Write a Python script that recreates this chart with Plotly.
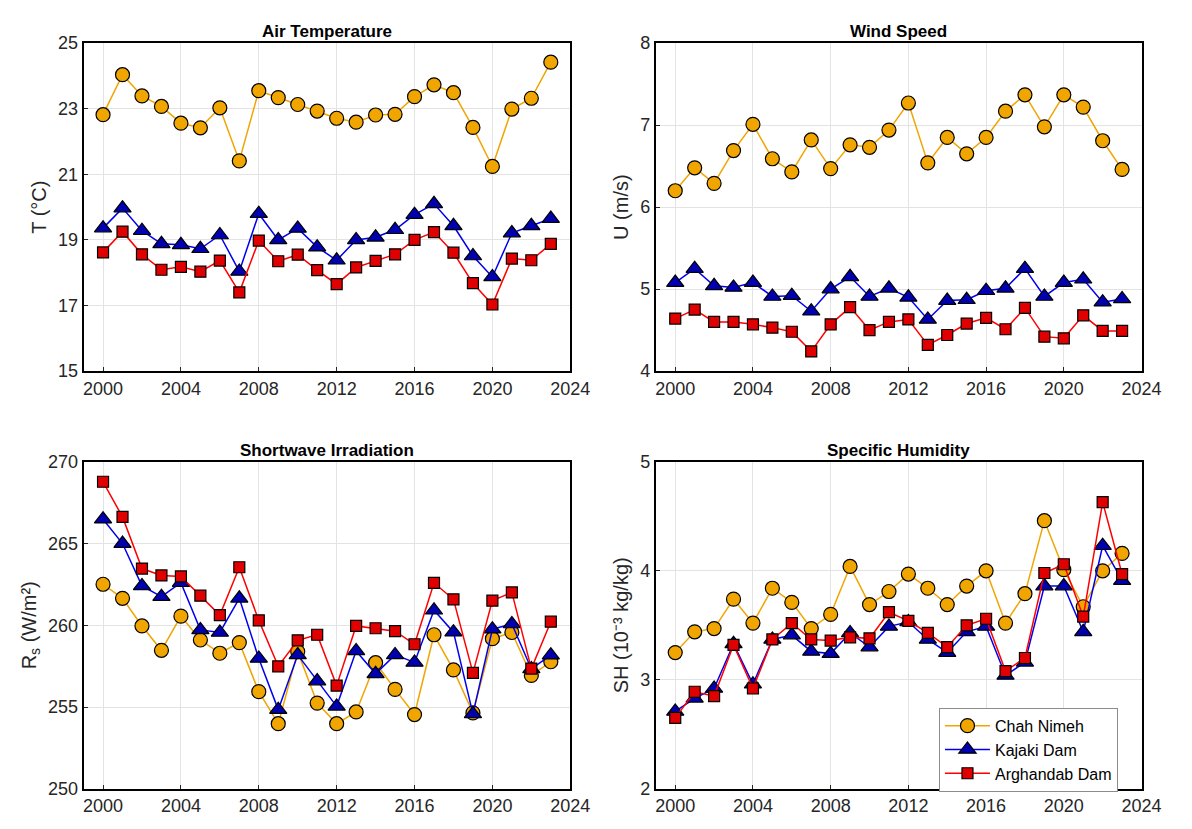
import plotly.graph_objects as go

years = list(range(2000, 2024))
series_names = ["Chah Nimeh", "Kajaki Dam", "Arghandab Dam"]

temp_chah = [22.82, 24.04, 23.39, 23.07, 22.56, 22.42, 23.03, 21.41, 23.55, 23.34, 23.13, 22.93,
             22.71, 22.59, 22.81, 22.83, 23.37, 23.73, 23.49, 22.43, 21.24, 22.99, 23.32, 24.42]
temp_kaj = [19.36, 19.97, 19.28, 18.88, 18.85, 18.73, 19.15, 18.04, 19.80, 19.00, 19.35, 18.78,
            18.38, 19.00, 19.08, 19.31, 19.77, 20.10, 19.43, 18.51, 17.87, 19.21, 19.43, 19.65]
temp_arg = [18.62, 19.25, 18.56, 18.09, 18.18, 18.03, 18.37, 17.40, 18.98, 18.35, 18.55, 18.08,
            17.65, 18.16, 18.36, 18.56, 19.00, 19.24, 18.61, 17.68, 17.03, 18.43, 18.38, 18.88]

wind_chah = [6.20, 6.48, 6.29, 6.69, 7.01, 6.59, 6.43, 6.82, 6.47, 6.76, 6.73, 6.94,
             7.27, 6.54, 6.85, 6.65, 6.85, 7.17, 7.37, 6.98, 7.37, 7.22, 6.81, 6.46]
wind_kaj = [5.08, 5.25, 5.04, 5.02, 5.08, 4.91, 4.92, 4.73, 5.00, 5.15, 4.91, 5.01,
            4.90, 4.63, 4.86, 4.87, 4.98, 5.01, 5.25, 4.91, 5.08, 5.12, 4.84, 4.88]
wind_arg = [4.64, 4.75, 4.60, 4.60, 4.57, 4.53, 4.48, 4.24, 4.57, 4.78, 4.50, 4.60,
            4.63, 4.32, 4.44, 4.58, 4.65, 4.51, 4.77, 4.42, 4.40, 4.68, 4.49, 4.49]

sw_chah = [262.51, 261.65, 259.96, 258.47, 260.56, 259.10, 258.29, 258.94, 255.94, 253.98, 258.39, 255.24,
           253.98, 254.70, 257.71, 256.08, 254.54, 259.42, 257.27, 254.64, 259.18, 259.56, 256.93, 257.77]
sw_kaj = [266.49, 265.00, 262.41, 261.75, 262.61, 259.72, 259.56, 261.65, 257.97, 254.84, 258.19, 256.59,
          255.04, 258.43, 257.03, 258.19, 257.73, 260.92, 259.58, 254.58, 259.76, 260.08, 257.33, 258.17]
sw_arg = [268.78, 266.63, 263.47, 263.05, 262.99, 261.81, 260.62, 263.55, 260.30, 257.49, 259.08, 259.42,
          256.31, 259.96, 259.82, 259.64, 258.84, 262.59, 261.59, 257.09, 261.51, 262.01, 257.35, 260.22]

sh_chah = [3.25, 3.44, 3.47, 3.74, 3.52, 3.84, 3.71, 3.47, 3.60, 4.04, 3.69, 3.81,
           3.97, 3.84, 3.69, 3.86, 4.00, 3.52, 3.79, 4.46, 4.01, 3.67, 4.00, 4.16]
sh_kaj = [2.71, 2.83, 2.92, 3.33, 2.96, 3.37, 3.41, 3.26, 3.24, 3.43, 3.30, 3.49,
          3.53, 3.37, 3.25, 3.44, 3.49, 3.04, 3.16, 3.86, 3.86, 3.44, 4.23, 3.91]
sh_arg = [2.65, 2.89, 2.85, 3.32, 2.92, 3.37, 3.52, 3.37, 3.36, 3.39, 3.38, 3.62,
          3.54, 3.43, 3.30, 3.50, 3.56, 3.08, 3.20, 3.98, 4.06, 3.58, 4.63, 3.97]

panels = [
    ("Air Temperature", "T (°C)", [15, 25], [15, 17, 19, 21, 23, 25], [temp_chah, temp_kaj, temp_arg]),
    ("Wind Speed", "U (m/s)", [4, 8], [4, 5, 6, 7, 8], [wind_chah, wind_kaj, wind_arg]),
    ("Shortwave Irradiation", "R<sub>s</sub> (W/m²)", [250, 270], [250, 255, 260, 265, 270], [sw_chah, sw_kaj, sw_arg]),
    ("Specific Humidity", "SH (10⁻³ kg/kg)", [2, 5], [2, 3, 4, 5], [sh_chah, sh_kaj, sh_arg]),
]
x_ticks = [2000, 2004, 2008, 2012, 2016, 2020, 2024]

W, H = 1192, 829
xdoms = [[85 / W, 580 / W], [667 / W, 1161 / W]]
ydoms = [[1 - 370 / H, 1 - 34 / H], [1 - 798 / H, 1 - 463 / H]]

line_colors = ["#F0A500", "#0000F0", "#FF0000"]
fill_colors = ["#F0A500", "#0000B0", "#E00000"]
symbols = ["circle", "triangle-up", "square"]
msizes = [14, 15, 11]

fig = go.Figure()
font_main = "Liberation Sans, Arial, sans-serif"
layout = dict(
    width=W, height=H,
    margin=dict(l=0, r=0, t=0, b=0),
    paper_bgcolor="white", plot_bgcolor="white",
    font=dict(family=font_main, size=18, color="#262626"),
    showlegend=True,
    legend=dict(x=955 / W, y=1 - 715 / H, xanchor="left", yanchor="top",
                bgcolor="white", bordercolor="#8c8c8c", borderwidth=1,
                font=dict(size=16, color="#000000"), tracegroupgap=0,
                itemwidth=45),
    annotations=[],
)

for i, (title, ytitle, yr, yt, data) in enumerate(panels):
    r, c = divmod(i, 2)
    n = i + 1
    xa = "xaxis" if n == 1 else f"xaxis{n}"
    ya = "yaxis" if n == 1 else f"yaxis{n}"
    xref = "x" if n == 1 else f"x{n}"
    yref = "y" if n == 1 else f"y{n}"
    layout[xa] = dict(domain=xdoms[c], anchor=yref, range=[1999, 2024], tickvals=x_ticks,
                      showgrid=True, gridcolor="#e3e3e3", gridwidth=1,
                      showline=True, linecolor="black", linewidth=2, mirror=True,
                      ticks="inside", ticklen=4, tickcolor="#262626", zeroline=False,
                      tickfont=dict(size=18, color="#262626"))
    layout[ya] = dict(domain=ydoms[r], anchor=xref, range=yr, tickvals=yt,
                      showgrid=True, gridcolor="#e3e3e3", gridwidth=1,
                      showline=True, linecolor="black", linewidth=2, mirror=True,
                      ticks="inside", ticklen=4, tickcolor="#262626", zeroline=False,
                      tickfont=dict(size=18, color="#262626"),
                      title=dict(text=ytitle, font=dict(size=20, color="#262626"), standoff=6))
    cx = (xdoms[c][0] + xdoms[c][1]) / 2
    layout["annotations"].append(dict(
        text=f"<b>{title}</b>", x=cx, y=ydoms[r][1], xref="paper", yref="paper",
        xanchor="center", yanchor="bottom", yshift=0, showarrow=False,
        font=dict(size=17, color="black")))
    for k in range(3):
        fig.add_trace(go.Scatter(
            x=years, y=data[k], mode="lines+markers", name=series_names[k],
            xaxis=xref, yaxis=yref, showlegend=(i == 3),
            line=dict(color=line_colors[k], width=1.5),
            marker=dict(symbol=symbols[k], size=msizes[k], color=fill_colors[k],
                        line=dict(color="black", width=1.2)),
            cliponaxis=True))

fig.update_layout(**layout)
fig.write_html("out.html")
